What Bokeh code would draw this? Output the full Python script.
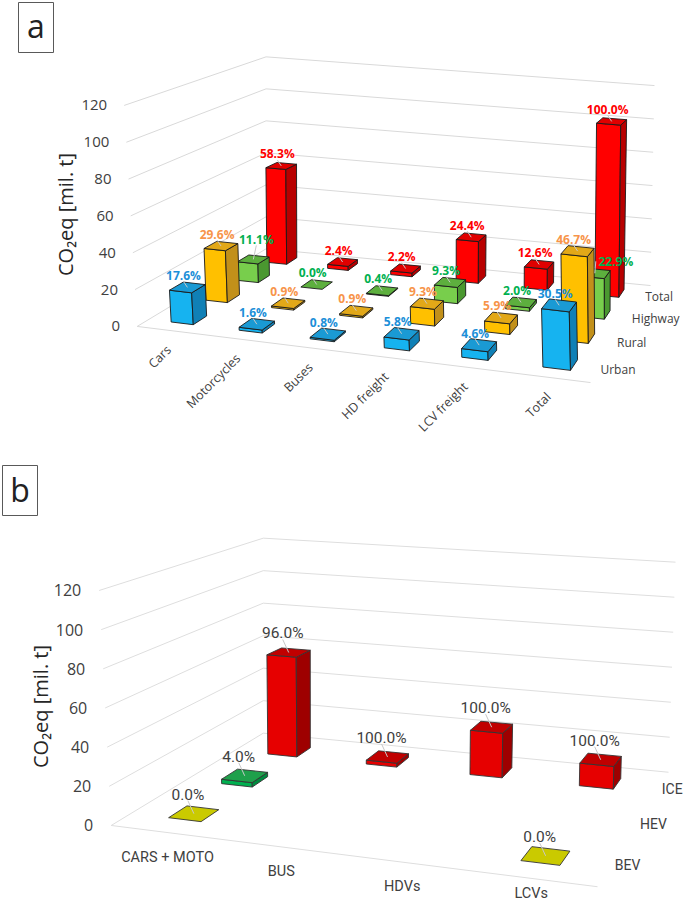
import numpy as np
from bokeh.plotting import figure
from bokeh.layouts import column
from bokeh.models import Range1d
from bokeh.core.properties import value
from bokeh.embed import file_html
from bokeh.resources import INLINE

# ---------------- data: panel a (CO2eq, mil. t) ----------------
CATS_A = ["Cars", "Motorcycles", "Buses", "HD freight", "LCV freight", "Total"]
SERIES_A = ["Urban", "Rural", "Highway", "Total"]
URBAN_A = [17.4, 1.6, 0.8, 5.8, 4.6, 31.0]
RURAL_A = [29.3, 0.9, 0.9, 9.3, 5.9, 47.5]
HIGHWAY_A = [10.9, 0.0, 0.4, 9.3, 2.0, 23.0]
TOTAL_A = [57.5, 2.4, 2.2, 24.8, 12.4, 101.0]
URBAN_PCT_A = ["17.6%", "1.6%", "0.8%", "5.8%", "4.6%", "30.5%"]
RURAL_PCT_A = ["29.6%", "0.9%", "0.9%", "9.3%", "5.9%", "46.7%"]
HIGHWAY_PCT_A = ["11.1%", "0.0%", "0.4%", "9.3%", "2.0%", "22.9%"]
TOTAL_PCT_A = ["58.3%", "2.4%", "2.2%", "24.4%", "12.6%", "100.0%"]
TICKS = [0, 20, 40, 60, 80, 100, 120]

# ---------------- data: panel b ----------------
CATS_B = ["CARS + MOTO", "BUS", "HDVs", "LCVs"]
SERIES_B = ["BEV", "HEV", "ICE"]
BEV_B = [0.0, None, None, 0.0]
HEV_B = [2.4, None, None, None]
ICE_B = [58.0, 2.2, 25.0, 12.5]
BEV_PCT_B = ["0.0%", None, None, "0.0%"]
HEV_PCT_B = ["4.0%", None, None, None]
ICE_PCT_B = ["96.0%", "100.0%", "100.0%", "100.0%"]

VMAX = 120


def fit_homography(src, dst):
    S = np.asarray(src, float)
    D = np.asarray(dst, float)

    def norm(P):
        m, s = P.mean(0), P.std(0).mean()
        return np.array([[1 / s, 0, -m[0] / s], [0, 1 / s, -m[1] / s], [0, 0, 1]])
    Ts, Td = norm(S), norm(D)
    Sn = (Ts @ np.c_[S, np.ones(len(S))].T).T
    Dn = (Td @ np.c_[D, np.ones(len(D))].T).T
    rows = []
    for (x, y, _), (X, Y, _) in zip(Sn, Dn):
        rows.append([x, y, 1, 0, 0, 0, -X * x, -X * y, -X])
        rows.append([0, 0, 0, x, y, 1, -Y * x, -Y * y, -Y])
    _, _, Vt = np.linalg.svd(np.array(rows))
    Hn = Vt[-1].reshape(3, 3)
    return np.linalg.inv(Td) @ Hn @ Ts


def make_proj(ncat, nser, floor_src, floor_dst, verticals):
    """Perspective floor (category x series) plus a vertical value vector
    that varies bilinearly over the floor."""
    H = fit_homography(floor_src, floor_dst)
    vfl, vfr, vbl, vbr = [np.array(v, float) for v in verticals]

    def proj(u, v, w):
        r = H @ np.array([u, v, 1.0])
        base = r[:2] / r[2]
        s, t = u / ncat, v / nser
        vert = (1 - s) * (1 - t) * vfl + s * (1 - t) * vfr + (1 - s) * t * vbl + s * t * vbr
        return base + vert * (w / VMAX)
    return proj


def u_at_x(proj, v, x, lo=0.0, hi=8.0):
    for _ in range(50):
        mid = (lo + hi) / 2
        if proj(mid, v, 0)[0] < x:
            lo = mid
        else:
            hi = mid
    return (lo + hi) / 2


def make_fig(y0, y1, top):
    p = figure(width=683, height=y1 - y0, x_range=Range1d(0, 683),
               y_range=Range1d(top + (y1 - y0), top), output_backend="svg",
               toolbar_location=None, min_border=0,
               x_axis_type=None, y_axis_type=None)
    p.outline_line_color = None
    p.background_fill_color = "white"
    return p


def draw_walls(p, proj, nser, u_front, u_back, color):
    xs, ys = [], []
    for t in TICKS:
        a, b, c = proj(0, 0, t), proj(0, nser, t), proj(u_back, nser, t)
        xs.append([a[0], b[0], c[0]])
        ys.append([a[1], b[1], c[1]])
    a, b = proj(0, 0, 0), proj(u_front, 0, 0)
    xs.append([a[0], b[0]])
    ys.append([a[1], b[1]])
    p.multi_line(xs, ys, line_color=color, line_width=1)


def draw_ticks(p, proj, font, size, color, dx):
    tx, ty, tt = [], [], []
    for t in TICKS:
        q = proj(0, 0, t)
        tx.append(q[0] + dx)
        ty.append(q[1])
        tt.append(str(t))
    p.text(tx, ty, text=tt, text_font=value(font), text_font_size=size,
           text_color=color, text_align="right", text_baseline="middle")


def draw_bars(p, proj, values, bw, bd, front_c, top_c, side_c, edge):
    ncat = len(values[0])
    nser = len(values)
    xs, ys, fc = [], [], []
    for j in range(nser - 1, -1, -1):
        for i in range(ncat):
            h = values[j][i]
            if h is None:
                continue
            u0, u1 = i + 0.5 - bw / 2, i + 0.5 + bw / 2
            v0, v1 = j + 0.5 - bd / 2, j + 0.5 + bd / 2
            faces = []
            if h > 0:
                faces.append(([(u0, v0, 0), (u1, v0, 0), (u1, v0, h), (u0, v0, h)], front_c[j]))
                faces.append(([(u1, v0, 0), (u1, v1, 0), (u1, v1, h), (u1, v0, h)], side_c[j]))
            faces.append(([(u0, v0, h), (u1, v0, h), (u1, v1, h), (u0, v1, h)], top_c[j]))
            for pts, col in faces:
                q = [proj(*pt) for pt in pts]
                xs.append([r[0] for r in q])
                ys.append([r[1] for r in q])
                fc.append(col)
    p.patches(xs, ys, fill_color=fc, line_color=edge, line_width=0.9)


def draw_pct(p, proj, values, pcts, colors, font, size, style, off, special=None):
    special = special or {}
    lx, ly, lt, lc = [], [], [], []
    sx0, sy0, sx1, sy1 = [], [], [], []
    for j in range(len(values)):
        for i in range(len(values[j])):
            if pcts[j][i] is None:
                continue
            c = proj(i + 0.5, j + 0.5, values[j][i])
            dx, dy = special.get((j, i), off)
            x, y = c[0] + dx, c[1] + dy
            lx.append(x); ly.append(y); lt.append(pcts[j][i]); lc.append(colors[j])
            if dx > 10:
                sx0.append(x - 20); sy0.append(y)
            else:
                sx0.append(x); sy0.append(y + 6)
            sx1.append(c[0]); sy1.append(c[1])
    p.segment(sx0, sy0, sx1, sy1, line_color="#C8C8C8", line_width=1)
    p.text(lx, ly, text=lt, text_color=lc, text_font=value(font),
           text_font_size=size, text_font_style=style,
           text_align="center", text_baseline="middle")


def series_label_pos(proj, nser, u_front, u_back, dx, dy):
    xs, ys = [], []
    for j in range(nser):
        v = j + 0.5
        u = u_front + (u_back - u_front) * v / nser
        q = proj(u, v, 0)
        xs.append(q[0] + dx); ys.append(q[1] + dy)
    return xs, ys


# ================= panel a =================
pa = make_fig(0, 440, 0)
BW_A, BD_A = 0.33, 0.38
a0, b0 = 0.5 - BW_A / 2, 0.5 - BD_A / 2
proj_a = make_proj(
    6, 4,
    [(0, 0), (6, 0), (0, 4), (6, 4),
     (a0, b0), (1 + a0, b0), (2 + a0, b0), (3 + a0, b0), (4 + a0, b0), (5 + a0, b0),
     (a0, 1 + b0), (5 + a0, 1 + b0), (a0, 2 + b0),
     (a0, 3 + b0), (1 + a0, 3 + b0), (2 + a0, 3 + b0), (3 + a0, 3 + b0), (4 + a0, 3 + b0), (5 + a0, 3 + b0)],
    [(137, 324), (590, 383), (263, 255), (649, 283),
     (169, 322), (239, 328), (311, 337), (383, 349), (461, 358), (543, 368),
     (206, 299), (563, 343), (239, 279),
     (266, 261), (329, 266), (390, 273), (456, 280), (523, 285), (598, 295)],
    [(-13, -221), (-5, -229), (0, -192), (4, -200)])
uf_a = u_at_x(proj_a, 0, 590)
ub_a = u_at_x(proj_a, 4, 650)

draw_walls(pa, proj_a, 4, uf_a, ub_a, "#D9D9D9")
draw_ticks(pa, proj_a, "Open Sans", "15px", "#404040", -17)
vals_a = [URBAN_A, RURAL_A, HIGHWAY_A, TOTAL_A]
pcts_a = [URBAN_PCT_A, RURAL_PCT_A, HIGHWAY_PCT_A, TOTAL_PCT_A]
draw_bars(pa, proj_a, vals_a, BW_A, BD_A,
          ["#16B3F0", "#FFC000", "#78CE4C", "#FF0000"],
          ["#1A9AD4", "#E2A818", "#5DAF3E", "#E00000"],
          ["#1080B6", "#C2901A", "#4A9830", "#B80000"], "#1A1A1A")
draw_pct(pa, proj_a, vals_a, pcts_a, ["#1C8FD8", "#F7944A", "#00B050", "#FF0000"],
         "Open Sans", "12px", "bold", (-4, -12),
         special={(2, 5): (21, -12), (2, 0): (3, -20)})

cx, cy = [], []
for i in range(len(CATS_A)):
    q = proj_a(i + 0.5, 0, 0)
    cx.append(q[0] - 2); cy.append(q[1] + 17)
pa.text(cx, cy, text=CATS_A, angle=np.pi / 4, text_font=value("Open Sans"),
        text_font_size="12.5px", text_color="#404040", text_align="right", text_baseline="middle")
sx, sy = series_label_pos(proj_a, 4, uf_a, ub_a, 1, 1)
pa.text(sx, sy, text=SERIES_A, text_font=value("Open Sans"), text_font_size="12px",
        text_color="#404040", text_align="left", text_baseline="middle")
pa.text([65], [214], text=["CO\u2082eq [mil. t]"], angle=np.pi / 2, text_font=value("Open Sans"),
        text_font_size="20px", text_color="#262626", text_align="center", text_baseline="middle")
pa.quad(left=[18], right=[53], top=[2], bottom=[52], fill_color="white", line_color="#595959", line_width=1)
pa.text([35.5], [25], text=["a"], text_font=value("Open Sans"), text_font_size="32px",
        text_color="#222222", text_align="center", text_baseline="middle")

# ================= panel b =================
pb = make_fig(440, 901, 450)
BW_B, BD_B = 0.30, 0.33
c0, d0 = 0.5 - BW_B / 2, 0.5 - BD_B / 2
proj_b = make_proj(
    4, 3,
    [(0, 0), (4, 0), (0, 3), (4, 3),
     (c0, 2 + d0), (1 + c0, 2 + d0), (2 + c0, 2 + d0), (3 + c0, 2 + d0),
     (c0, d0), (3 + c0, d0), (c0, 1 + d0)],
    [(112, 833), (597, 895), (263, 743), (666, 780),
     (267, 763), (367, 772), (470, 787), (578, 795),
     (167, 828), (520, 872), (220, 794)],
    [(-12, -235), (0, -250), (0, -195), (7, -210)])
uf_b = u_at_x(proj_b, 0, 597)
ub_b = u_at_x(proj_b, 3, 668)

draw_walls(pb, proj_b, 3, uf_b, ub_b, "#DEDEDE")
draw_ticks(pb, proj_b, "Open Sans", "16px", "#404040", -18)
vals_b = [BEV_B, HEV_B, ICE_B]
pcts_b = [BEV_PCT_B, HEV_PCT_B, ICE_PCT_B]
draw_bars(pb, proj_b, vals_b, BW_B, BD_B,
          ["#B5B500", "#00B050", "#E60000"],
          ["#CACA00", "#1FA04B", "#C00000"],
          ["#A0A000", "#008A3E", "#9E0000"], "#333333")
draw_pct(pb, proj_b, vals_b, pcts_b, ["#404040", "#404040", "#404040"],
         "Roboto", "15.5px", "normal", (-6, -19))

cx, cy = [], []
for i in range(len(CATS_B)):
    q = proj_b(i + 0.5, 0, 0)
    cx.append(q[0] + 2); cy.append(min(q[1] + 25, 903))
pb.text(cx, cy, text=CATS_B, text_font=value("Roboto"), text_font_size="14.5px",
        text_color="#404040", text_align="center", text_baseline="middle")
sx, sy = series_label_pos(proj_b, 3, uf_b, ub_b, 3, 1)
pb.text(sx, sy, text=SERIES_B, text_font=value("Roboto"), text_font_size="14px",
        text_color="#404040", text_align="left", text_baseline="middle")
pb.text([40], [716], text=["CO\u2082eq [mil. t]"], angle=np.pi / 2, text_font=value("Open Sans"),
        text_font_size="20px", text_color="#262626", text_align="center", text_baseline="middle")
pb.quad(left=[2], right=[37], top=[475], bottom=[525], fill_color="white",
        line_color="#595959", line_width=1)
pb.text([19.5], [499], text=["b"], text_font=value("Open Sans"), text_font_size="32px",
        text_color="#222222", text_align="center", text_baseline="middle")

layout = column(pa, pb, spacing=0)
open("out.html", "w").write(file_html(layout, INLINE))
